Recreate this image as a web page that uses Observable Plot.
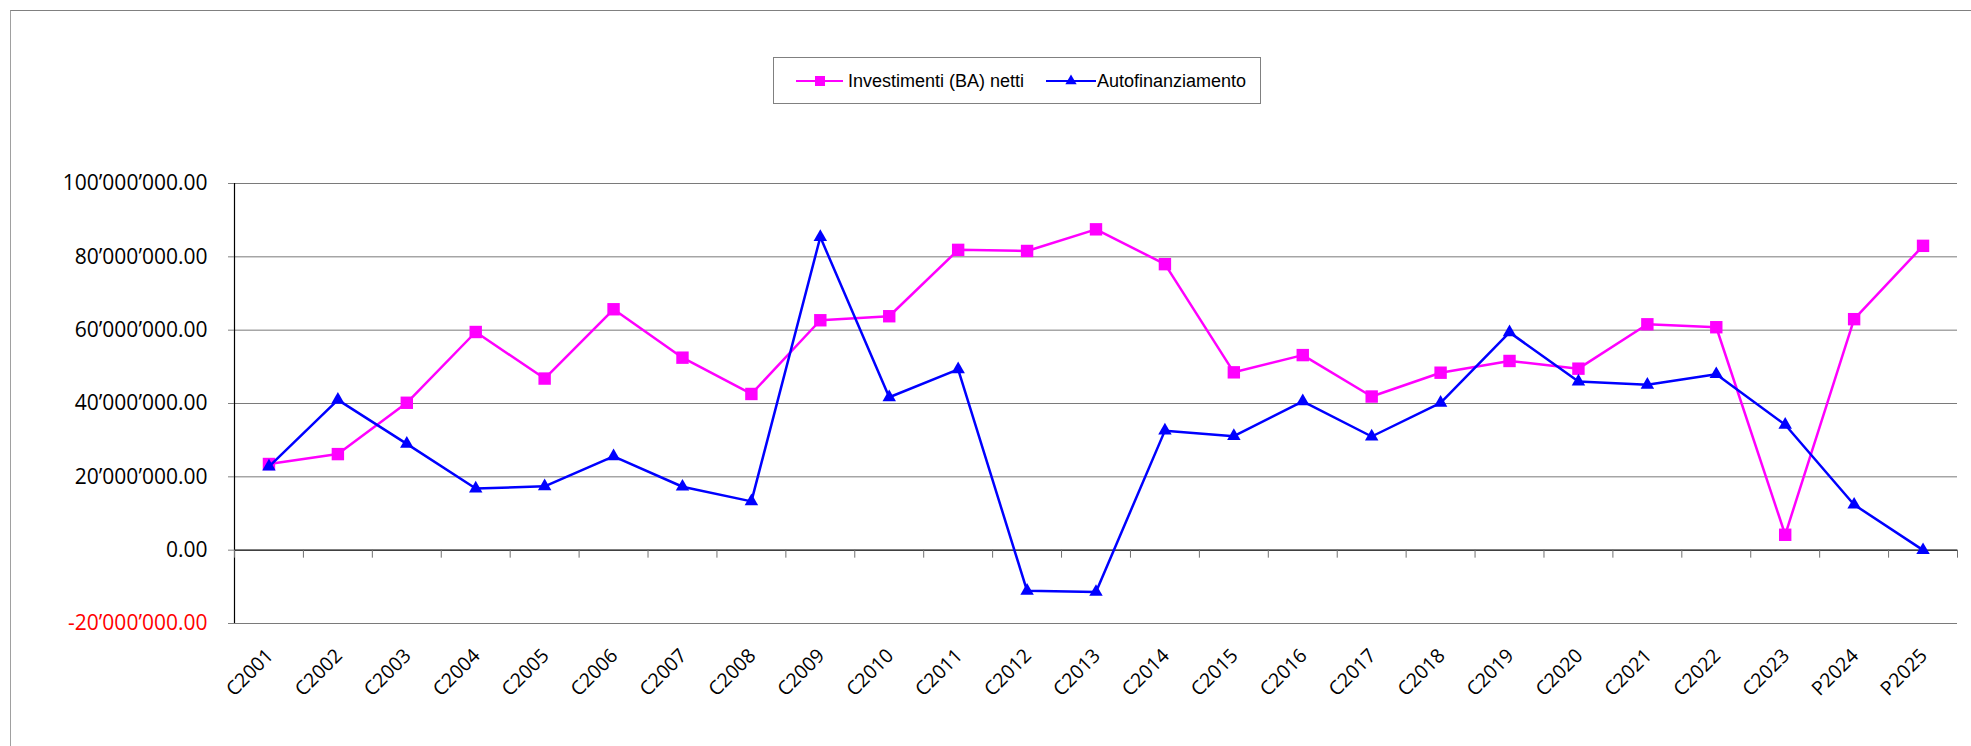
<!DOCTYPE html>
<html>
<head>
<meta charset="utf-8">
<script src="https://cdn.jsdelivr.net/npm/d3@7"></script>
<script src="https://cdn.jsdelivr.net/npm/@observablehq/plot@0.6"></script>
<style>
  html, body { margin: 0; padding: 0; background: white; }
  #wrap { position: relative; width: 1971px; height: 746px; overflow: hidden; }
  #frame { position: absolute; left: 10px; top: 10px; width: 2000px; height: 800px;
           border-left: 1px solid #a0a0a0; border-top: 1px solid #808080; pointer-events: none; }
  #legend { position: absolute; left: 773px; top: 57px; }
</style>
</head>
<body>
<div id="wrap">
  <div id="chart"></div>
  <div id="frame"></div>
  <svg id="legend" width="490" height="48"></svg>
</div>
<script>
const categories = ["C2001","C2002","C2003","C2004","C2005","C2006","C2007","C2008","C2009","C2010",
  "C2011","C2012","C2013","C2014","C2015","C2016","C2017","C2018","C2019","C2020",
  "C2021","C2022","C2023","P2024","P2025"];
const investimenti = [23.5, 26.2, 40.2, 59.5, 46.8, 65.7, 52.5, 42.6, 62.7, 63.8,
  81.9, 81.6, 87.5, 78.0, 48.5, 53.2, 41.9, 48.4, 51.6, 49.5,
  61.6, 60.8, 4.2, 63.0, 83.0].map(v => v * 1e6);
const autofinanziamento = [22.8, 41.0, 29.0, 16.8, 17.4, 25.6, 17.3, 13.3, 85.4, 41.7,
  49.3, -11.1, -11.4, 32.6, 31.1, 40.6, 31.0, 40.2, 59.4, 46.0,
  45.1, 48.0, 34.2, 12.4, 0].map(v => v * 1e6);
const yTicks = [-20e6, 0, 20e6, 40e6, 60e6, 80e6, 100e6];
const seriesNames = ["Investimenti (BA) netti", "Autofinanziamento"];
const colors = ["#ff00ff", "#0000ff"];

const idx = categories.map((_, i) => i);
const boundaries = d3.range(categories.length + 1).map(i => i - 0.5);
const rowsInv = idx.map(i => ({i, v: investimenti[i]}));
const rowsAuto = idx.map(i => ({i, v: autofinanziamento[i]}));
const fmt = v => d3.format(",.2f")(v).replace(/,/g, "\u2019").replace("\u2212", "-");

const chart = Plot.plot({
  width: 1971,
  height: 746,
  marginLeft: 234,
  marginRight: 14,
  marginTop: 183,
  marginBottom: 123,
  x: {type: "linear", domain: [-0.5, categories.length - 0.5], axis: null},
  y: {domain: [-20e6, 100e6], axis: null},
  style: {fontFamily: "'Open Sans', sans-serif", background: "white", color: "black", overflow: "visible"},
  marks: [
    Plot.ruleY(yTicks.filter(d => d !== 0), {y: d => d, stroke: "#7a7a7a", strokeWidth: 1}),
    Plot.ruleY([0], {stroke: "black", strokeWidth: 1.2}),
    Plot.ruleX([-0.5], {stroke: "black", strokeWidth: 1.2}),
    Plot.ruleX(boundaries, {x: d => d, y1: 0, y2: 0, insetBottom: -8, stroke: "#707070"}),
    Plot.axisY(yTicks.filter(d => d >= 0), {tickSize: 6, tickPadding: 21, tickFormat: fmt, stroke: "#808080",
      fill: "black", fontSize: 21, label: null}),
    Plot.axisY(yTicks.filter(d => d < 0), {tickSize: 6, tickPadding: 21, tickFormat: fmt, stroke: "#808080",
      fill: "#ff0000", fontSize: 21, label: null}),
    Plot.text(idx, {x: d => d, frameAnchor: "bottom", dx: 1, dy: 29, rotate: -45, textAnchor: "end",
      lineAnchor: "middle", text: d => categories[d], fontSize: 19.5, fill: "black"}),
    Plot.line(rowsInv, {x: "i", y: "v", stroke: colors[0], strokeWidth: 2.5}),
    Plot.dot(rowsInv, {x: "i", y: "v", symbol: "square", r: 7, fill: colors[0], stroke: "none"}),
    Plot.line(rowsAuto, {x: "i", y: "v", stroke: colors[1], strokeWidth: 2.5}),
    Plot.dot(rowsAuto, {x: "i", y: "v", symbol: "triangle", r: 5, fill: colors[1], stroke: "none"})
  ]
});
document.getElementById("chart").appendChild(chart);

// Legend
const lg = d3.select("#legend");
lg.append("rect").attr("x", 0.5).attr("y", 0.5).attr("width", 487).attr("height", 46)
  .attr("fill", "white").attr("stroke", "#808080");
const items = [
  {x0: 23, x1: 70, mx: 47, tx: 75, sym: d3.symbolSquare, size: 100},
  {x0: 273, x1: 323, mx: 298, tx: 324, sym: d3.symbolTriangle, size: 55}
];
items.forEach((it, k) => {
  lg.append("line").attr("x1", it.x0).attr("x2", it.x1).attr("y1", 24).attr("y2", 24)
    .attr("stroke", colors[k]).attr("stroke-width", 2);
  lg.append("path").attr("d", d3.symbol(it.sym, it.size)()).attr("transform", `translate(${it.mx},24)`)
    .attr("fill", colors[k]);
  lg.append("text").attr("x", it.tx).attr("y", 24).attr("dy", "0.35em")
    .attr("font-family", "'Liberation Sans', Arial, sans-serif").attr("font-size", 18)
    .attr("fill", "black").text(seriesNames[k]);
});
</script>
</body>
</html>
